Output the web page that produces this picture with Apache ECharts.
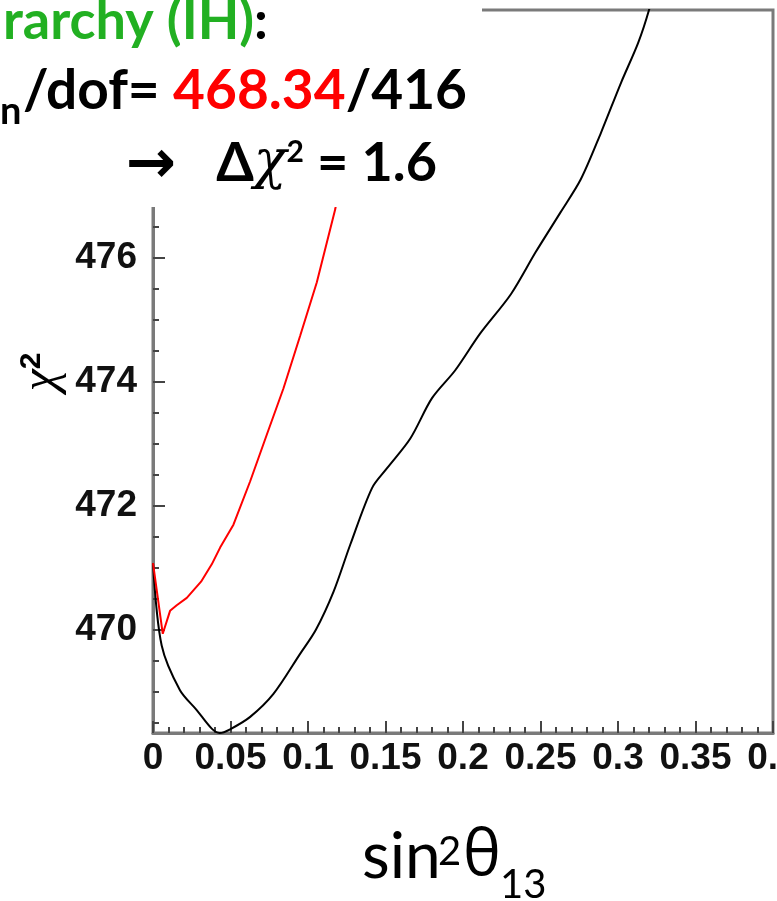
<!DOCTYPE html>
<html><head><meta charset="utf-8">
<script src="https://cdn.jsdelivr.net/npm/echarts@6/dist/echarts.min.js"></script>
<style>html,body{margin:0;padding:0;background:#fff}#c{width:777px;height:901px}</style>
</head><body><div id="c"></div>
<script>
// ---- data ----
const blackX = [0, 0.0056, 0.0174, 0.0282, 0.0379, 0.043, 0.0497, 0.0627, 0.0777, 0.095, 0.105, 0.1165, 0.1273, 0.1413, 0.151, 0.166, 0.180, 0.195, 0.211, 0.231, 0.247, 0.263, 0.276, 0.289, 0.302, 0.313, 0.320, 0.326];
const blackY = [471.08, 469.75, 469.03, 468.71, 468.41, 468.34, 468.40, 468.60, 468.97, 469.62, 470.0, 470.62, 471.38, 472.29, 472.61, 473.09, 473.74, 474.19, 474.78, 475.42, 476.10, 476.74, 477.27, 478.02, 478.83, 479.47, 480.0, 480.6];
const redX = [0, 0.0063, 0.011, 0.0153, 0.0218, 0.031, 0.0379, 0.0433, 0.0519, 0.0627, 0.0734, 0.0842, 0.095, 0.1057, 0.1176, 0.121];
const redY = [471.08, 469.94, 470.31, 470.40, 470.52, 470.78, 471.06, 471.33, 471.70, 472.40, 473.15, 473.90, 474.75, 475.61, 476.79, 477.3];
const yMajorTicks = [470, 472, 474, 476, 478];
const yMinorTicks = [468.5, 469, 469.5, 470.5, 471, 471.5, 472.5, 473, 473.5, 474.5, 475, 475.5, 476.5, 477, 477.5, 478.5, 479, 479.5];
const xMin = 0, xMax = 0.4, xStep = 0.05;
const yMin = 468.34, yMax = 480;
const chiMin = '468.34', dof = '416', deltaChi = '1.6';

const blackData = blackX.map((x, i) => [x, blackY[i]]);
const redData = redX.map((x, i) => [x, redY[i]]);

const chart = echarts.init(document.getElementById('c'), null, {renderer: 'canvas'});
const gray = '#7a7a7a';
const tickFont = {fontFamily: '"Liberation Sans Narrow", "Arial Narrow", "Liberation Sans", sans-serif', fontWeight: 'bold', fontSize: 37, color: '#111'};
const calibri = 'Lato, "Open Sans", "DejaVu Sans", sans-serif';

chart.setOption({
  animation: false,
  backgroundColor: '#fff',
  grid: {left: 153, right: 4, top: 10, bottom: 168, show: true, borderColor: gray, borderWidth: 3, containLabel: false, outerBoundsMode: 'none'},
  xAxis: {
    type: 'value', min: xMin, max: xMax, interval: xStep,
    axisLine: {show: true, lineStyle: {color: gray, width: 3}},
    axisTick: {show: true, inside: true, length: 12, lineStyle: {color: '#444', width: 2}},
    minorTick: {show: true, splitNumber: 5, length: 6, lineStyle: {color: '#444', width: 2}},
    splitLine: {show: false},
    axisLabel: Object.assign({margin: 7, showMinLabel: true, showMaxLabel: true, hideOverlap: false,
      formatter: v => String(+(+v).toFixed(2))}, tickFont)
  },
  yAxis: [{
    type: 'value', min: yMin, max: yMax,
    axisLine: {show: true, lineStyle: {color: gray, width: 3}},
    axisTick: {show: true, inside: true, length: 12, customValues: yMajorTicks, lineStyle: {color: '#444', width: 2}},
    splitLine: {show: false},
    axisLabel: Object.assign({margin: 16, customValues: yMajorTicks, formatter: v => String(v)}, tickFont)
  }, {
    type: 'value', min: yMin, max: yMax, position: 'left',
    axisLine: {show: false},
    axisTick: {show: true, inside: true, length: 6, customValues: yMinorTicks, lineStyle: {color: '#444', width: 2}},
    splitLine: {show: false},
    axisLabel: {show: false}
  }],
  series: [
    {type: 'line', data: blackData, showSymbol: false, clip: true, z: 2, smooth: 0.3, lineStyle: {color: '#000', width: 2}, itemStyle: {color: '#000'}},
    {type: 'line', data: redData, showSymbol: false, clip: true, z: 3, smooth: false, lineStyle: {color: '#ff0000', width: 2}, itemStyle: {color: '#ff0000'}}
  ],
  graphic: [
    {type: 'rect', z: 100, shape: {x: 0, y: 0, width: 482, height: 207}, style: {fill: '#fff'}},
    {type: 'text', z: 101, style: {x: 268, y: 22, text: '{g|rarchy (IH)}{k|:}', align: 'right', textAlign: 'right', verticalAlign: 'middle', textVerticalAlign: 'middle',
      rich: {g: {fill: '#22b022', font: 'bold 54px ' + calibri}, k: {fill: '#000', font: 'bold 54px ' + calibri}}}},
    {type: 'text', z: 101, style: {x: 0, y: 112, text: 'n', align: 'left', textAlign: 'left', verticalAlign: 'middle', textVerticalAlign: 'middle', fill: '#000', font: 'bold 38px ' + calibri}},
    {type: 'text', z: 101, style: {x: 467, y: 91, text: '{k|/dof= }{r|' + chiMin + '}{k|/' + dof + '}', align: 'right', textAlign: 'right', verticalAlign: 'middle', textVerticalAlign: 'middle',
      rich: {k: {fill: '#000', font: 'bold 55px ' + calibri}, r: {fill: '#ff0000', font: 'bold 55px ' + calibri}}}},
    {type: 'text', z: 101, style: {x: 126, y: 166, text: '\u2192', align: 'left', textAlign: 'left', verticalAlign: 'middle', textVerticalAlign: 'middle', fill: '#000', font: 'bold 60px "DejaVu Sans", sans-serif'}},
    {type: 'text', z: 101, style: {x: 437, y: 164, text: '{k|\u0394}{c|\u03c7}{s|2}{k| = ' + deltaChi + '}', align: 'right', textAlign: 'right', verticalAlign: 'middle', textVerticalAlign: 'middle',
      rich: {k: {fill: '#000', font: 'bold 54px ' + calibri}, c: {fill: '#000', font: 'italic 54px "DejaVu Serif", serif'}, s: {fill: '#000', font: 'bold 30px ' + calibri, verticalAlign: 'top'}}}},
    {type: 'text', z: 101, x: 42, y: 372, rotation: Math.PI / 2, style: {x: 0, y: 0, text: '{c|\u03c7}{s|2}', align: 'center', textAlign: 'center', verticalAlign: 'middle', textVerticalAlign: 'middle',
      rich: {c: {fill: '#000', font: 'italic 50px "Liberation Serif", serif'}, s: {fill: '#000', font: 'bold 30px "Liberation Sans", sans-serif', verticalAlign: 'top'}}}},
    {type: 'text', z: 101, style: {x: 362, y: 857, text: 'sin', align: 'left', textAlign: 'left', verticalAlign: 'middle', textVerticalAlign: 'middle', fill: '#000', font: '64px ' + calibri}},
    {type: 'text', z: 102, style: {x: 438, y: 852, text: '2', align: 'left', textAlign: 'left', verticalAlign: 'middle', textVerticalAlign: 'middle', fill: '#000', fontSize: 40, fontFamily: 'Lato', fontWeight: 'normal'}},
    {type: 'text', z: 101, style: {x: 463, y: 857, text: '\u03b8', align: 'left', textAlign: 'left', verticalAlign: 'middle', textVerticalAlign: 'middle', fill: '#000', font: '64px "Open Sans", ' + calibri}},
    {type: 'text', z: 101, style: {x: 500, y: 885, text: '13', align: 'left', textAlign: 'left', verticalAlign: 'middle', textVerticalAlign: 'middle', fill: '#000', font: '40px ' + calibri}}
  ]
});
</script>
</body></html>
